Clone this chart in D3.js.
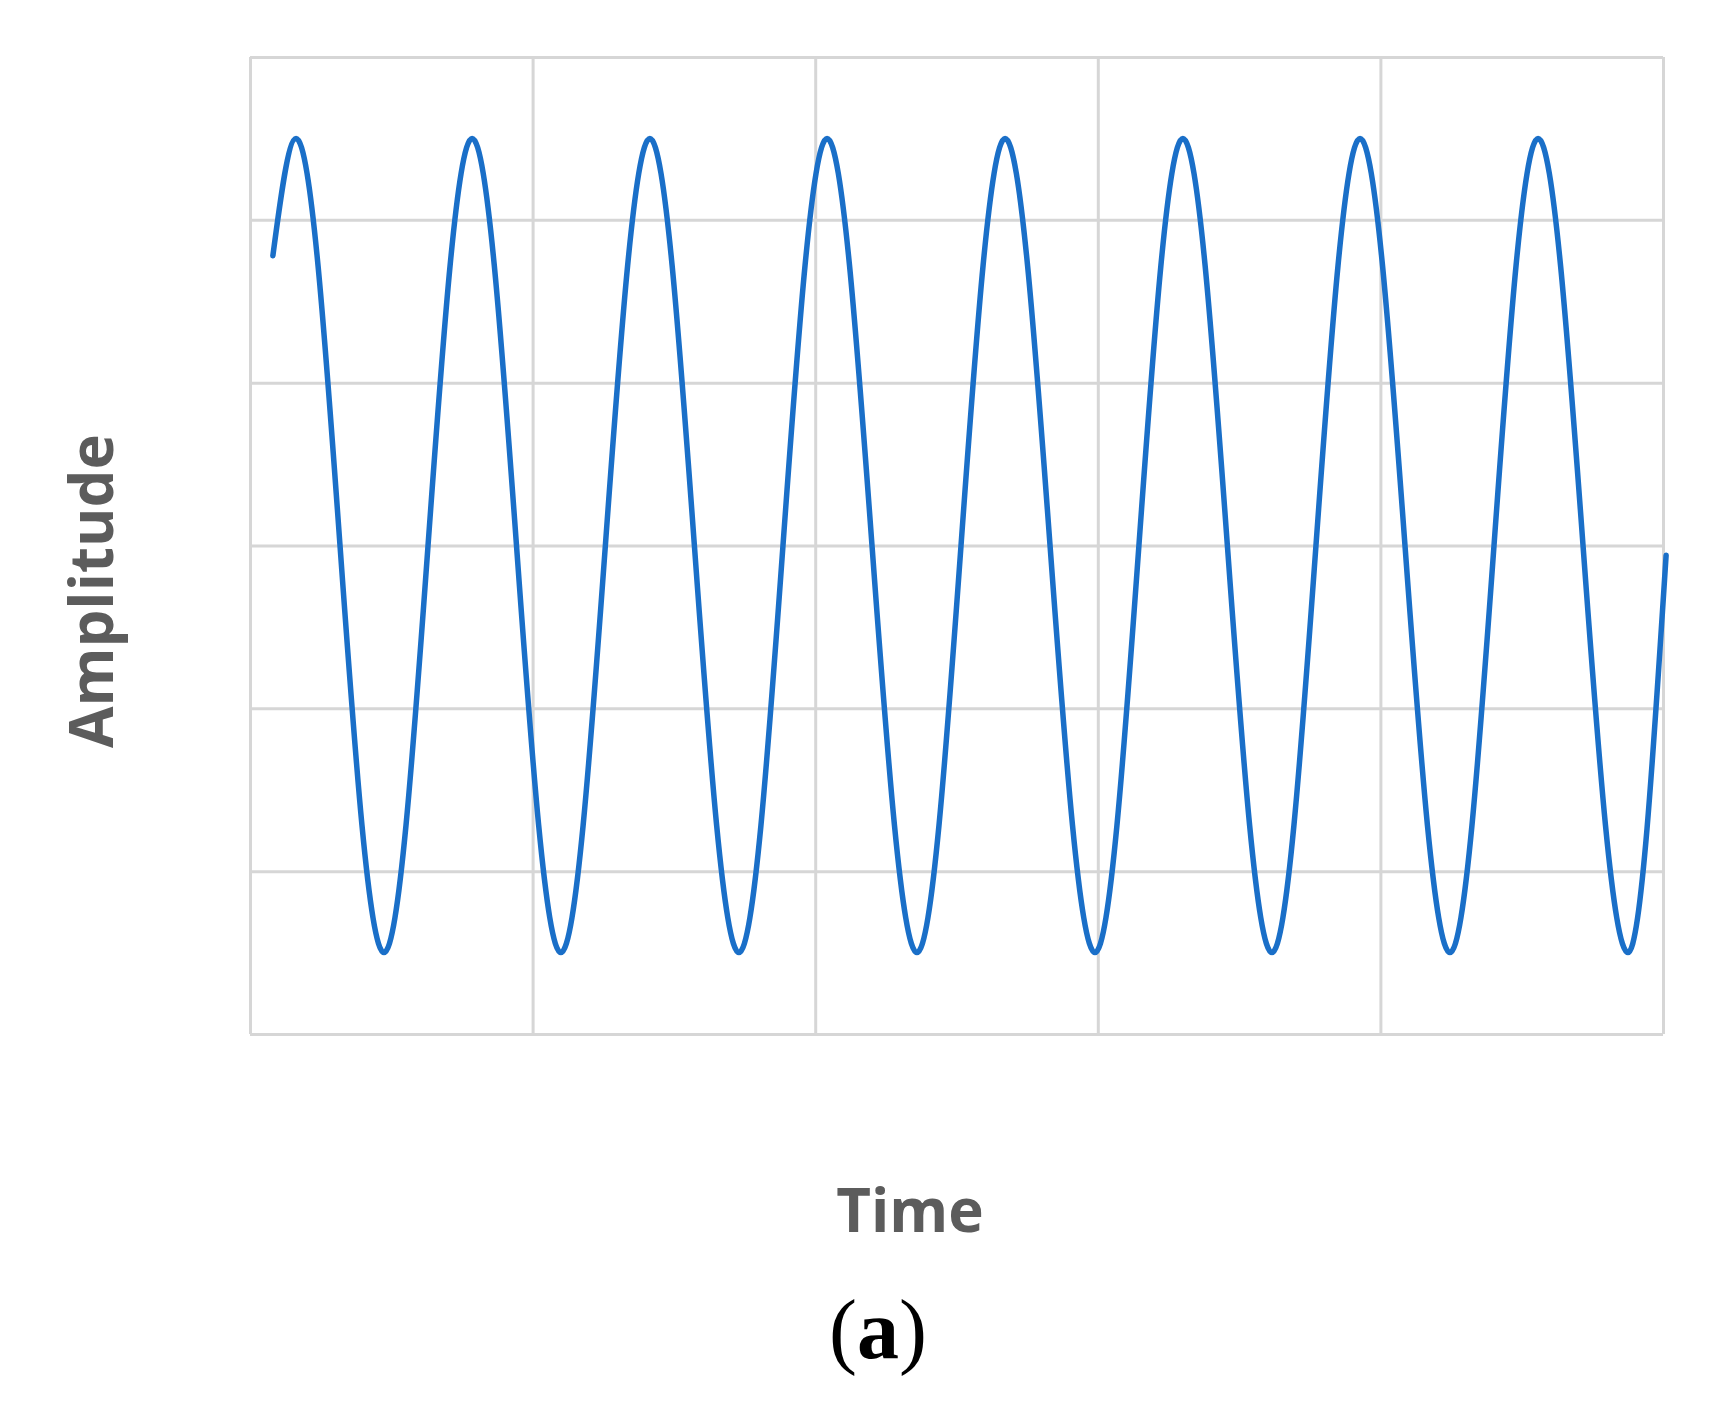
<!DOCTYPE html>
<html>
<head>
<meta charset="utf-8">
<script src="https://cdn.jsdelivr.net/npm/d3@7"></script>
<style>
  html, body { margin: 0; padding: 0; background: #ffffff; }
  svg { display: block; }
</style>
</head>
<body>
<svg id="chart" width="1720" height="1427"></svg>
<script>
// ---- data ----
const timeTicks = [0, 1, 2, 3, 4, 5];
const amplitudeTicks = [-3, -2, -1, 0, 1, 2, 3];
// start point, alternating peaks / troughs, end point
const timePoints = [0.081, 0.163, 0.474, 0.786, 1.100, 1.415, 1.730, 2.042, 2.360,
                    2.672, 2.990, 3.301, 3.616, 3.928, 4.246, 4.558, 4.876, 5.011];
const amplitudeValues = [1.78, 2.5, -2.5, 2.5, -2.5, 2.5, -2.5, 2.5, -2.5,
                         2.5, -2.5, 2.5, -2.5, 2.5, -2.5, 2.5, -2.5, -0.06];
const xLabel = "Time";
const yLabel = "Amplitude";
const panelLabel = "a";

// ---- layout ----
const svg = d3.select("#chart");
const plotLeft = 250, plotRight = 1663, plotTop = 57, plotBottom = 1034;

const x = d3.scaleLinear().domain([0, 5]).range([plotLeft, plotRight]);
const y = d3.scaleLinear().domain([-3, 3]).range([plotBottom, plotTop]);

const gridColor = "#d6d6d6";

// vertical grid
const gx = svg.append("g")
  .attr("transform", `translate(0,${plotBottom})`)
  .call(d3.axisBottom(x).tickValues(timeTicks).tickSize(-(plotBottom - plotTop)).tickFormat(""));
gx.select(".domain").remove();
gx.selectAll(".tick line").attr("stroke", gridColor).attr("stroke-width", 3);

// horizontal grid
const gy = svg.append("g")
  .attr("transform", `translate(${plotLeft},0)`)
  .call(d3.axisLeft(y).tickValues(amplitudeTicks).tickSize(-(plotRight - plotLeft)).tickFormat(""));
gy.select(".domain").remove();
gy.selectAll(".tick line").attr("stroke", gridColor).attr("stroke-width", 3);

// signal
const pts = timePoints.map((t, i) => [t, amplitudeValues[i]]);
const line = d3.line()
  .x(d => x(d[0]))
  .y(d => y(d[1]))
  .curve(d3.curveMonotoneX);

svg.append("path")
  .datum(pts)
  .attr("d", line)
  .attr("fill", "none")
  .attr("stroke", "#1a6fc8")
  .attr("stroke-width", 5.5)
  .attr("stroke-linecap", "round")
  .attr("stroke-linejoin", "round");

// axis titles
svg.append("text")
  .attr("x", 910).attr("y", 1232)
  .attr("text-anchor", "middle")
  .attr("font-family", "'Open Sans', sans-serif")
  .attr("font-weight", 700)
  .attr("font-size", 60)
  .attr("fill", "#5c5c5c")
  .text(xLabel);

svg.append("text")
  .attr("transform", "translate(113,591) rotate(-90)")
  .attr("text-anchor", "middle")
  .attr("font-family", "'Open Sans', sans-serif")
  .attr("font-weight", 700)
  .attr("font-size", 60)
  .attr("fill", "#5c5c5c")
  .text(yLabel);

// panel label
const pl = svg.append("text")
  .attr("x", 878).attr("y", 1358)
  .attr("text-anchor", "middle")
  .attr("font-family", "'Liberation Serif', 'Times New Roman', serif")
  .attr("font-size", 84)
  .attr("fill", "#000");
pl.append("tspan").text("(");
pl.append("tspan").attr("font-weight", 700).text(panelLabel);
pl.append("tspan").text(")");
</script>
</body>
</html>
